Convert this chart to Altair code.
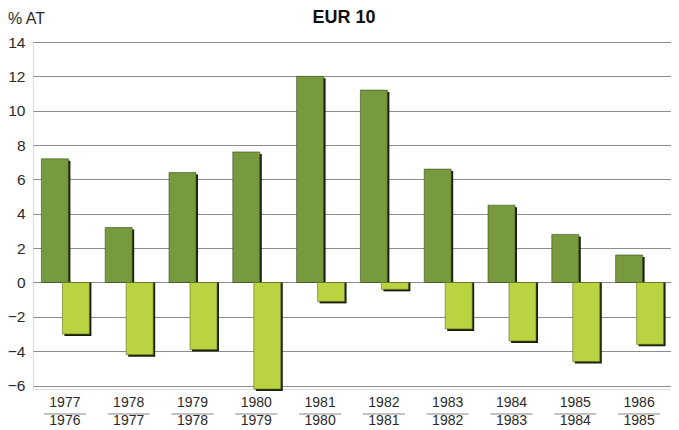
import altair as alt
import pandas as pd

periods = ["1977/1976", "1978/1977", "1979/1978", "1980/1979", "1981/1980",
           "1982/1981", "1983/1982", "1984/1983", "1985/1984", "1986/1985"]
series_dark = [7.2, 3.2, 6.4, 7.6, 12.0, 11.2, 6.6, 4.5, 2.8, 1.6]
series_light = [-3.0, -4.2, -3.9, -6.2, -1.1, -0.4, -2.7, -3.4, -4.6, -3.6]
y_ticks = [-6, -4, -2, 0, 2, 4, 6, 8, 10, 12, 14]
title_text = "EUR 10"
unit_text = "% AT"

df = pd.DataFrame({
    "period": periods * 2,
    "series": ["dark"] * len(periods) + ["light"] * len(periods),
    "value": series_dark + series_light,
})

W, H = 638, 347
FONT = "Liberation Sans"

x = alt.X(
    "period:N", sort=periods,
    scale=alt.Scale(paddingInner=0, paddingOuter=0),
    axis=alt.Axis(title=None, labelExpr="split(datum.label, '/')", labelAngle=0,
                  labelFontSize=14, labelLineHeight=18, labelPadding=6,
                  labelColor="#2a2a2a", labelFont=FONT, ticks=False, domain=False,
                  grid=False),
)
y = alt.Y(
    "value:Q",
    scale=alt.Scale(domain=[-6.2, 14], nice=False, zero=False),
    axis=alt.Axis(values=y_ticks, title=None,
                  labelExpr="datum.value < 0 ? '\u2212' + abs(datum.value) : datum.label",
                  labelFontSize=15.5, labelFont=FONT, labelColor="#2a2a2a",
                  labelPadding=8, ticks=False, domain=False,
                  grid=True, gridColor="#8c8c8c", gridWidth=1),
)

base = alt.Chart(df)
dark = base.transform_filter("datum.series == 'dark'")
light = base.transform_filter("datum.series == 'light'")

enc = dict(x=x, y=y, y2=alt.datum(0))

dark_shadow = dark.mark_bar(width=27, xOffset=-8, yOffset=2, color="#1b200f").encode(**enc)
dark_face = dark.mark_bar(width=27, xOffset=-10, color="#789a3e",
                          stroke="#3d4c1f", strokeWidth=0.6).encode(**enc)
light_shadow = light.mark_bar(width=27, xOffset=13, yOffset=2, color="#1b200f").encode(**enc)
light_face = light.mark_bar(width=27, xOffset=11, color="#bad441",
                            stroke="#5d6b1f", strokeWidth=0.6).encode(**enc)

frac = alt.Chart(pd.DataFrame({"period": periods})).mark_tick(
    orient="horizontal", size=42, thickness=1, color="#555555"
).encode(x=x, y=alt.value(H + 25))

title_mark = alt.Chart(pd.DataFrame({"t": [title_text]})).mark_text(
    font=FONT, fontSize=18, fontWeight="bold", color="#111111",
    align="center", baseline="alphabetic"
).encode(text="t:N", x=alt.value(311), y=alt.value(-19))

unit_mark = alt.Chart(pd.DataFrame({"t": [unit_text]})).mark_text(
    font=FONT, fontSize=16, color="#2a2a2a", align="left", baseline="alphabetic"
).encode(text="t:N", x=alt.value(-25), y=alt.value(-18))

chart = alt.layer(dark_shadow, dark_face, light_shadow, light_face, frac,
                  title_mark, unit_mark).properties(
    width=W, height=H,
    autosize=alt.AutoSizeParams(type="none"),
    padding={"left": 25, "top": 34, "right": 0, "bottom": 41},
).configure_view(stroke=None).configure(background="white")

chart.save("out.html", embed_options={"renderer": "svg", "actions": False})
